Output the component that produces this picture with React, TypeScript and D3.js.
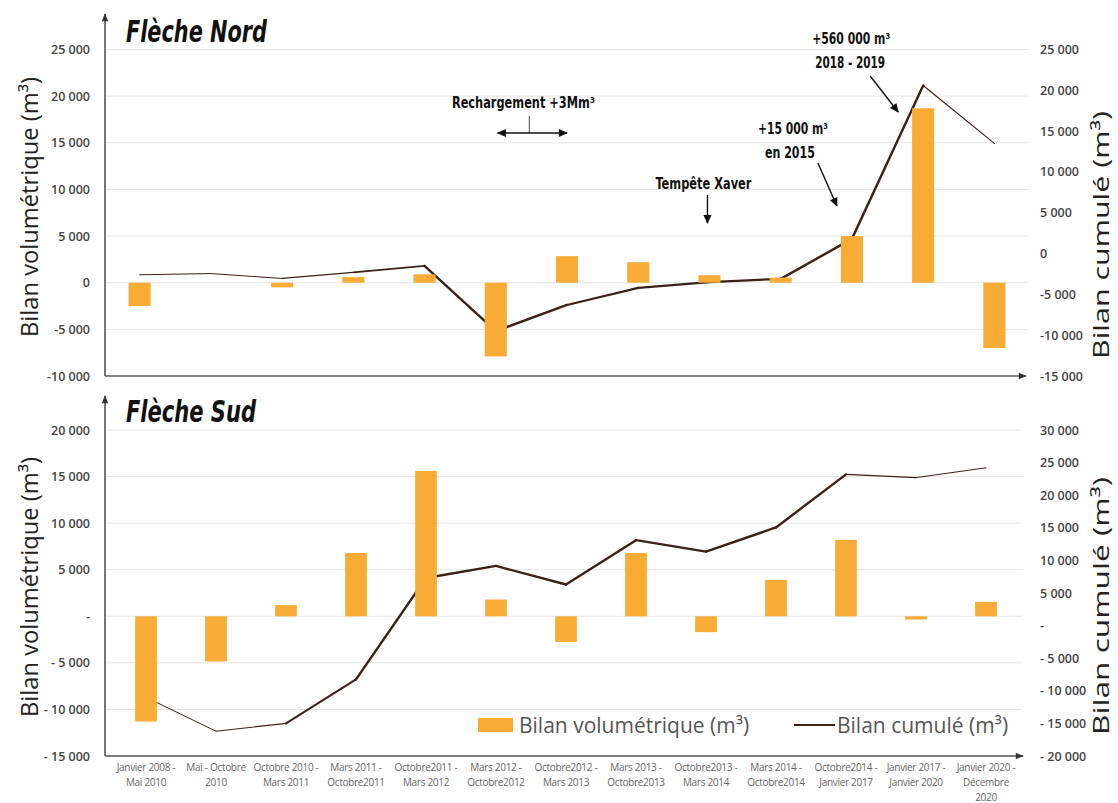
import React from "react";
import * as d3 from "d3";

// categories (two or three lines each)
const categories: string[][] = [
  ["Janvier 2008 -", "Mai 2010"],
  ["Mai - Octobre", "2010"],
  ["Octobre 2010 -", "Mars 2011"],
  ["Mars 2011 -", "Octobre2011"],
  ["Octobre2011 -", "Mars 2012"],
  ["Mars 2012 -", "Octobre2012"],
  ["Octobre2012 -", "Mars 2013"],
  ["Mars 2013 -", "Octobre2013"],
  ["Octobre2013 -", "Mars 2014"],
  ["Mars 2014 -", "Octobre2014"],
  ["Octobre2014 -", "Janvier 2017"],
  ["Janvier 2017 -", "Janvier 2020"],
  ["Janvier 2020 -", "Décembre", "2020"],
];

// Flèche Nord
const nordBilan = [-2500, 0, -500, 600, 900, -7900, 2850, 2200, 800, 550, 5000, 18700, -7000];
const nordCumul = [-2600, -2450, -3050, -2300, -1500, -9500, -6300, -4200, -3500, -3100, 1800, 20600, 13500];

// Flèche Sud
const sudBilan = [-11300, -4850, 1200, 6800, 15600, 1800, -2750, 6800, -1700, 3900, 8200, -350, 1550];
const sudCumul = [-11000, -16200, -15000, -8250, 7300, 9150, 6300, 13100, 11350, 15050, 23200, 22700, 24200];

// tick values / labels
const nordLeftTicks = [25000, 20000, 15000, 10000, 5000, 0, -5000, -10000];
const nordLeftLabels = ["25 000", "20 000", "15 000", "10 000", "5 000", "0", "-5 000", "-10 000"];
const nordRightTicks = [25000, 20000, 15000, 10000, 5000, 0, -5000, -10000, -15000];
const nordRightLabels = ["25 000", "20 000", "15 000", "10 000", "5 000", "0", "-5 000", "-10 000", "-15 000"];
const sudLeftTicks = [20000, 15000, 10000, 5000, 0, -5000, -10000, -15000];
const sudLeftLabels = ["20 000", "15 000", "10 000", "5 000", "-", "- 5 000", "- 10 000", "- 15 000"];
const sudRightTicks = [30000, 25000, 20000, 15000, 10000, 5000, 0, -5000, -10000, -15000, -20000];
const sudRightLabels = ["30 000", "25 000", "20 000", "15 000", "10 000", "5 000", "-", "- 5 000", "- 10 000", "- 15 000", "- 20 000"];

const ORANGE = "#F8AB35";
const BROWN = "#3a2119";
const AXIS = "#555";
const GRID = "#e6e6e6";
const FONT = "'Open Sans', 'Noto Sans', sans-serif";
const COND = "'DejaVu Sans Condensed', 'DejaVu Sans', sans-serif";

// line thickness per segment (the source line gets heavier in the middle)
const nordSegW = [1, 1, 1.2, 1.8, 2.4, 2.4, 2.2, 2.2, 2.2, 2.4, 2.4, 1.2];
const sudSegW = [1, 1.2, 2, 2.4, 2.4, 2.4, 2.4, 2.4, 2.4, 2.4, 1.4, 1];

type Scales = {
  cx: (i: number) => number;
  yL: d3.ScaleLinear<number, number>;
  yR: d3.ScaleLinear<number, number>;
};

type PanelProps = {
  title: string;
  titleLen: number;
  titleY: number;
  bilan: number[];
  cumul: number[];
  segW: number[];
  xRange: [number, number];
  yRange: [number, number];
  axisTop: number;
  arrowX: number;
  gridEnd: number;
  leftDomain: [number, number];
  rightDomain: [number, number];
  leftTicks: number[];
  leftLabels: string[];
  rightTicks: number[];
  rightLabels: string[];
  children?: (s: Scales) => React.ReactNode;
  showCats?: boolean;
};

function Panel(p: PanelProps) {
  const x = d3.scaleBand<number>().domain(d3.range(p.bilan.length)).range(p.xRange);
  const cx = (i: number) => (x(i) as number) + x.bandwidth() / 2;
  const barW = x.bandwidth() * 0.31;
  const yL = d3.scaleLinear().domain(p.leftDomain).range(p.yRange);
  const yR = d3.scaleLinear().domain(p.rightDomain).range(p.yRange);
  const base = p.yRange[0];
  const seg = d3
    .line<[number, number]>()
    .x((d) => d[0])
    .y((d) => d[1]);

  return (
    <g>
      {/* grid */}
      {p.leftTicks.slice(0, -1).map((t) => (
        <line key={t} x1={105} x2={p.gridEnd} y1={yL(t)} y2={yL(t)} stroke={GRID} strokeWidth={1} />
      ))}
      {/* left tick labels */}
      {p.leftTicks.map((t, i) => (
        <text key={t} x={90} y={yL(t)} textAnchor="end" dominantBaseline="central"
          fontFamily={FONT} fontSize={12.5} fontWeight={600} fill="#444">
          {p.leftLabels[i]}
        </text>
      ))}
      {/* right tick labels */}
      {p.rightTicks.map((t, i) => (
        <text key={t} x={1040} y={yR(t)} textAnchor="start" dominantBaseline="central"
          fontFamily={FONT} fontSize={12.5} fontWeight={600} fill="#444">
          {p.rightLabels[i]}
        </text>
      ))}
      {/* cumulative line */}
      {p.cumul.slice(1).map((v, i) => (
        <path key={i}
          d={seg([[cx(i), yR(p.cumul[i])], [cx(i + 1), yR(v)]]) as string}
          fill="none" stroke={BROWN} strokeWidth={p.segW[i]} strokeLinecap="round" />
      ))}
      {/* bars */}
      {p.bilan.map((v, i) => (
        <rect key={i} x={cx(i) - barW / 2} width={barW}
          y={Math.min(yL(v), yL(0))} height={Math.abs(yL(v) - yL(0))} fill={ORANGE} />
      ))}
      {/* axes */}
      <line x1={105} y1={base} x2={105} y2={p.axisTop} stroke={AXIS} strokeWidth={1.6} markerEnd="url(#axArrow)" />
      <line x1={105} y1={base} x2={p.arrowX} y2={base} stroke={AXIS} strokeWidth={1.6} markerEnd="url(#axArrow)" />
      {/* title */}
      <text x={126} y={p.titleY} fontFamily={COND} fontWeight={700} fontStyle="italic" fontSize={30}
        textLength={p.titleLen} lengthAdjust="spacingAndGlyphs" fill="#111">
        {p.title}
      </text>
      {p.showCats &&
        categories.map((c, i) => (
          <text key={i} x={cx(i)} y={base + 15} textAnchor="middle" fontFamily={FONT} fontSize={10}
            fill="#666" letterSpacing={-0.3}>
            {c.map((l, j) => (
              <tspan key={j} x={cx(i)} dy={j === 0 ? 0 : 15}>{l}</tspan>
            ))}
          </text>
        ))}
      {p.children && p.children({ cx, yL, yR })}
    </g>
  );
}

const annoText = (x: number, y: number, s: string, size: number, len: number) => (
  <text x={x} y={y} textAnchor="middle" dominantBaseline="central" fontFamily={COND} fontWeight={700}
    fontSize={size} textLength={len} lengthAdjust="spacingAndGlyphs" fill="#111">
    {s}
  </text>
);

const axisTitle = (x: number, y: number, s: string, size: number, len: number) => (
  <text transform={`translate(${x},${y}) rotate(-90)`} textAnchor="middle" dominantBaseline="central"
    fontFamily={FONT} fontSize={size} fill="#222" textLength={len} lengthAdjust="spacingAndGlyphs">
    {s}
  </text>
);

export default function App() {
  return (
    <svg width={1118} height={803} style={{ position: "absolute", left: 0, top: 0, background: "#fff" }}>
      <defs>
        <marker id="axArrow" viewBox="0 0 10 10" refX="9" refY="5" markerWidth="9" markerHeight="8"
          markerUnits="userSpaceOnUse" orient="auto">
          <path d="M0,1 L10,5 L0,9 z" fill="#333" />
        </marker>
        <marker id="blkArrow" viewBox="0 0 10 10" refX="9" refY="5" markerWidth="10" markerHeight="9"
          markerUnits="userSpaceOnUse" orient="auto-start-reverse">
          <path d="M0,0.5 L10,5 L0,9.5 z" fill="#111" />
        </marker>
      </defs>

      {/* Flèche Nord */}
      <Panel title="Flèche Nord" titleLen={141} titleY={42} bilan={nordBilan} cumul={nordCumul} segW={nordSegW}
        xRange={[104, 1030]} yRange={[376, 49.5]} axisTop={14} arrowX={1026} gridEnd={1028}
        leftDomain={[-10000, 25000]} rightDomain={[-15000, 25000]}
        leftTicks={nordLeftTicks} leftLabels={nordLeftLabels}
        rightTicks={nordRightTicks} rightLabels={nordRightLabels}>
        {({ cx }) => {
          const m = (cx(5) + cx(6)) / 2;
          return (
            <g>
              {annoText(m - 8, 103, "Rechargement +3Mm³", 15, 143)}
              <line x1={m - 2} x2={m - 2} y1={116} y2={133} stroke="#666" strokeWidth={1.2} />
              <line x1={cx(5) + 2} x2={cx(6)} y1={133} y2={133} stroke="#111" strokeWidth={1.4}
                markerStart="url(#blkArrow)" markerEnd="url(#blkArrow)" />
              {annoText(cx(8) - 6, 184, "Tempête Xaver", 15, 96)}
              <line x1={cx(8) - 2} x2={cx(8) - 2} y1={195} y2={223} stroke="#111" strokeWidth={1.4} markerEnd="url(#blkArrow)" />
              {annoText(cx(10) - 59, 128, "+15 000 m³", 16, 70)}
              {annoText(cx(10) - 62, 152, "en 2015", 16, 50)}
              <line x1={cx(10) - 34} y1={163} x2={cx(10) - 15} y2={206} stroke="#111" strokeWidth={1.4} markerEnd="url(#blkArrow)" />
              {annoText(cx(11) - 72, 38, "+560 000 m³", 16, 78)}
              {annoText(cx(11) - 73, 62, "2018 - 2019", 16, 70)}
              <line x1={cx(11) - 53} y1={76} x2={cx(11) - 25} y2={112} stroke="#111" strokeWidth={1.4} markerEnd="url(#blkArrow)" />
            </g>
          );
        }}
      </Panel>

      {/* Flèche Sud */}
      <Panel title="Flèche Sud" titleLen={130} titleY={422} bilan={sudBilan} cumul={sudCumul} segW={sudSegW}
        xRange={[111, 1021]} yRange={[756, 430]} axisTop={396} arrowX={1023} gridEnd={1022}
        leftDomain={[-15000, 20000]} rightDomain={[-20000, 30000]}
        leftTicks={sudLeftTicks} leftLabels={sudLeftLabels}
        rightTicks={sudRightTicks} rightLabels={sudRightLabels} showCats>
        {() => (
          <g fontFamily={FONT} fontSize={21} fill="#555">
            <rect x={478} y={718} width={35} height={14} fill={ORANGE} />
            <text x={519} y={725} dominantBaseline="central">Bilan volumétrique (m³)</text>
            <line x1={794} x2={835} y1={725} y2={725} stroke={BROWN} strokeWidth={2} />
            <text x={837} y={725} dominantBaseline="central">Bilan cumulé (m³)</text>
          </g>
        )}
      </Panel>

      {/* axis titles */}
      {axisTitle(29, 207, "Bilan volumétrique  (m³)", 23, 260)}
      {axisTitle(29, 587, "Bilan volumétrique  (m³)", 23, 260)}
      {axisTitle(1100, 235, "Bilan cumulé (m³)", 22, 248)}
      {axisTitle(1100, 606, "Bilan cumulé (m³)", 22, 258)}
    </svg>
  );
}
